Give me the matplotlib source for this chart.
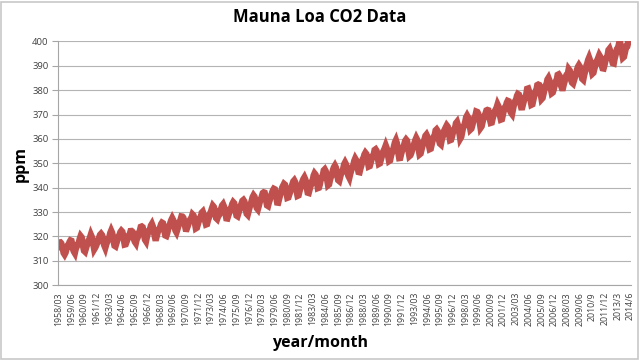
import numpy as np
import matplotlib
matplotlib.use('Agg')
from matplotlib import pyplot as plt
from matplotlib.patches import Rectangle

# Monthly CO2 at Mauna Loa (ppm), 1958/03 .. 2014/06, one row per year
co2_ppm = [
    315.71, 317.45, 317.50, 317.10, 315.86, 314.93, 313.20, 312.66, 313.33, 314.67,
    315.62, 316.38, 316.71, 317.72, 318.29, 318.15, 316.54, 314.80, 313.84, 313.26, 314.80, 315.58,
    316.43, 316.97, 317.58, 319.02, 320.03, 319.59, 318.18, 315.91, 314.16, 313.83, 315.00, 316.19,
    316.93, 317.70, 318.54, 319.48, 320.58, 319.77, 318.57, 316.79, 314.80, 315.38, 316.10, 317.01,
    317.94, 318.56, 319.68, 320.63, 321.01, 320.55, 319.58, 317.40, 316.26, 315.42, 316.69, 317.69,
    318.74, 319.08, 319.86, 321.39, 322.25, 321.47, 319.74, 317.77, 316.21, 315.99, 317.12, 318.31,
    319.57, 320.07, 320.73, 321.77, 322.25, 321.89, 320.44, 318.70, 316.70, 316.79, 317.79, 318.71,
    319.44, 320.44, 320.89, 322.13, 322.16, 321.87, 321.39, 318.81, 317.81, 317.30, 318.87, 319.42,
    320.62, 321.59, 322.39, 323.87, 324.01, 323.75, 322.39, 320.37, 318.64, 318.10, 319.79, 321.08,
    322.07, 322.50, 323.04, 324.42, 325.00, 324.09, 322.55, 320.92, 319.31, 319.31, 320.72, 321.96,
    322.57, 323.15, 323.89, 325.02, 325.57, 325.36, 324.14, 322.03, 320.41, 320.25, 321.31, 322.84,
    324.00, 324.42, 325.64, 326.66, 327.38, 326.70, 325.89, 323.67, 322.38, 321.78, 322.85, 324.12,
    325.06, 325.98, 326.93, 328.13, 328.07, 327.66, 326.35, 324.69, 323.10, 323.07, 324.01, 325.13,
    326.17, 326.68, 327.18, 327.78, 328.92, 328.57, 327.34, 325.46, 323.36, 323.57, 324.80, 326.01,
    326.77, 327.63, 327.75, 329.72, 330.07, 329.09, 328.05, 326.32, 324.93, 325.06, 326.50, 327.55,
    328.54, 329.56, 330.30, 331.50, 332.48, 332.07, 330.87, 329.31, 327.51, 327.18, 328.16, 328.64,
    329.35, 330.71, 331.48, 332.65, 333.09, 332.25, 331.18, 329.40, 327.43, 327.37, 328.46, 329.57,
    330.40, 331.40, 332.04, 333.31, 333.96, 333.59, 331.91, 330.06, 328.56, 328.34, 329.49, 330.76,
    331.75, 332.56, 333.50, 334.58, 334.87, 334.34, 333.05, 330.94, 329.30, 328.94, 330.31, 331.68,
    332.93, 333.42, 334.70, 336.07, 336.74, 336.27, 334.93, 332.75, 331.58, 331.16, 332.40, 333.85,
    334.97, 335.39, 336.64, 337.76, 338.01, 337.89, 336.54, 334.68, 332.76, 332.54, 333.92, 334.95,
    336.23, 336.76, 337.96, 338.89, 339.47, 339.29, 337.73, 336.09, 333.91, 333.86, 335.29, 336.73,
    338.01, 338.36, 340.08, 340.77, 341.46, 341.17, 339.56, 337.60, 335.88, 336.01, 337.10, 338.21,
    339.23, 340.47, 341.38, 342.51, 342.91, 342.25, 340.49, 338.43, 336.69, 336.85, 338.36, 339.61,
    340.75, 341.61, 342.70, 343.56, 344.13, 343.35, 342.06, 339.82, 337.97, 337.86, 339.26, 340.49,
    341.38, 342.52, 343.10, 344.94, 345.75, 345.32, 343.99, 342.39, 339.86, 339.99, 341.16, 342.99,
    343.70, 344.51, 345.28, 347.08, 347.43, 346.79, 345.40, 343.28, 341.07, 341.35, 342.98, 344.22,
    344.97, 345.99, 347.42, 348.35, 348.93, 348.25, 346.56, 344.69, 343.09, 342.80, 344.24, 345.56,
    346.29, 346.96, 347.86, 349.55, 350.21, 349.54, 347.94, 345.91, 344.86, 344.17, 345.66, 346.90,
    348.02, 348.47, 349.42, 350.99, 351.84, 351.25, 349.52, 348.10, 346.44, 346.36, 347.81, 348.96,
    350.43, 351.72, 352.22, 353.59, 354.22, 353.79, 352.39, 350.44, 348.72, 348.88, 350.07, 351.34,
    352.76, 353.07, 353.68, 355.42, 355.67, 355.13, 353.90, 351.67, 349.80, 349.99, 351.30, 352.53,
    353.66, 354.70, 355.39, 356.20, 357.16, 356.22, 354.82, 352.91, 350.96, 351.18, 352.83, 354.21,
    354.72, 355.75, 357.16, 358.60, 359.34, 358.24, 356.17, 354.03, 352.16, 352.21, 353.75, 354.99,
    355.99, 356.72, 357.81, 359.15, 359.66, 359.25, 357.03, 355.00, 353.01, 353.31, 354.16, 355.40,
    356.70, 357.16, 358.38, 359.46, 360.28, 359.60, 357.57, 355.52, 353.70, 353.98, 355.33, 356.80,
    358.36, 358.91, 359.97, 361.26, 361.68, 360.95, 359.55, 357.49, 355.84, 356.00, 357.59, 359.05,
    359.98, 361.03, 361.66, 363.48, 363.82, 363.30, 361.94, 359.50, 358.11, 357.80, 359.61, 360.74,
    362.09, 363.29, 364.06, 364.76, 365.45, 365.01, 363.70, 361.54, 359.51, 359.65, 360.80, 362.38,
    363.23, 364.06, 364.61, 366.40, 366.84, 365.68, 364.52, 362.57, 360.24, 360.83, 362.49, 364.34,
    365.17, 365.78, 367.14, 368.86, 369.49, 368.87, 367.64, 365.77, 363.90, 364.23, 365.46, 366.97,
    368.15, 368.87, 369.59, 371.14, 371.00, 370.35, 369.27, 366.94, 364.63, 365.12, 366.67, 368.01,
    369.14, 369.46, 370.52, 371.66, 371.82, 371.70, 370.12, 368.12, 366.62, 366.73, 368.29, 369.53,
    370.28, 371.50, 372.12, 372.87, 374.02, 373.30, 371.62, 369.55, 367.96, 368.09, 369.68, 371.24,
    372.44, 373.08, 373.52, 374.85, 375.55, 375.40, 374.02, 371.48, 370.71, 370.25, 372.08, 373.78,
    374.68, 375.63, 376.11, 377.65, 378.35, 378.13, 376.62, 374.50, 372.99, 373.00, 374.35, 375.70,
    376.79, 377.36, 378.39, 380.50, 380.62, 379.55, 377.76, 375.83, 374.05, 374.22, 375.84, 377.44,
    378.34, 379.61, 380.08, 382.05, 382.24, 382.08, 380.67, 378.67, 376.42, 376.80, 378.31, 379.96,
    381.37, 382.02, 382.56, 384.37, 384.92, 384.03, 382.28, 380.48, 378.81, 379.06, 380.14, 381.66,
    382.58, 383.71, 384.34, 386.23, 386.41, 385.87, 384.45, 381.84, 380.86, 380.86, 382.36, 383.61,
    385.07, 385.84, 385.83, 386.77, 388.51, 388.05, 386.25, 384.08, 383.09, 382.78, 384.01, 385.11,
    386.65, 387.12, 388.52, 389.57, 390.16, 389.62, 388.07, 386.08, 384.65, 384.33, 386.05, 387.49,
    388.55, 390.07, 391.01, 392.38, 393.22, 392.24, 390.33, 388.52, 386.84, 387.16, 388.67, 389.81,
    391.30, 391.92, 392.45, 393.37, 394.28, 393.69, 392.59, 390.21, 389.00, 388.93, 390.24, 391.80,
    393.07, 393.35, 394.36, 396.43, 396.87, 395.88, 394.52, 392.54, 391.13, 391.01, 392.95, 394.34,
    395.61, 396.85, 397.26, 398.35, 399.98, 398.87, 397.37, 395.41, 393.39, 393.70, 395.19, 396.82,
    397.92, 398.10, 399.47, 401.33, 401.88, 401.31,
]

# category labels shown on the axis (every 15th month)
tick_labels = [
    '1958/03', '1959/06', '1960/09', '1961/12', '1963/03', '1964/06', '1965/09', '1966/12',
    '1968/03', '1969/06', '1970/09', '1971/12', '1973/03', '1974/06', '1975/09', '1976/12',
    '1978/03', '1979/06', '1980/09', '1981/12', '1983/03', '1984/06', '1985/09', '1986/12',
    '1988/03', '1989/06', '1990/09', '1991/12', '1993/03', '1994/06', '1995/09', '1996/12',
    '1998/03', '1999/06', '2000/09', '2001/12', '2003/03', '2004/06', '2005/09', '2006/12',
    '2008/03', '2009/06', '2010/9', '2011/12', '2013/3', '2014/6',
]
tick_step = 15
y_ticks = [300, 310, 320, 330, 340, 350, 360, 370, 380, 390, 400]

plt.rcParams['font.family'] = ['Open Sans', 'DejaVu Sans']

fig = plt.figure(figsize=(6.4, 3.6), dpi=100)
ax = fig.add_axes([0.091, 0.208, 0.895, 0.677])

x = np.arange(len(co2_ppm))
ax.plot(x, co2_ppm, color='#c0504d', linewidth=4.8, solid_joinstyle='miter')

ax.set_xlim(-0.5, len(co2_ppm) - 0.5)
ax.set_ylim(300, 400)
ax.set_yticks(y_ticks)
ax.yaxis.grid(True, color='#b4b4b4', linewidth=0.8)
ax.set_axisbelow(True)
ax.set_xticks(np.arange(len(tick_labels)) * tick_step)
ax.set_xticklabels(tick_labels, rotation=90, fontsize=6.3, color='#404040')
ax.tick_params(axis='y', labelsize=6.8, labelcolor='#404040', color='#a6a6a6', length=4, width=0.8, pad=3)
ax.tick_params(axis='x', color='#a6a6a6', length=0, pad=5)

for side in ['top', 'right']:
    ax.spines[side].set_visible(False)
for side in ['left', 'bottom']:
    ax.spines[side].set_color('#a6a6a6')
    ax.spines[side].set_linewidth(0.8)

fig.text(0.5, 0.952, 'Mauna Loa CO2 Data', ha='center', va='center', fontsize=12, fontweight='bold')
fig.text(0.5, 0.048, 'year/month', ha='center', va='center', fontsize=11.5, fontweight='bold')
fig.text(0.033, 0.545, 'ppm', ha='center', va='center', rotation=90, fontsize=11.5, fontweight='bold')

# light frame around the whole chart
fig.patches.append(Rectangle((0.002, 0.003), 0.995, 0.992, transform=fig.transFigure,
                             fill=False, edgecolor='#c8c8c8', linewidth=1.2))

fig.savefig('out.png', dpi=100)
